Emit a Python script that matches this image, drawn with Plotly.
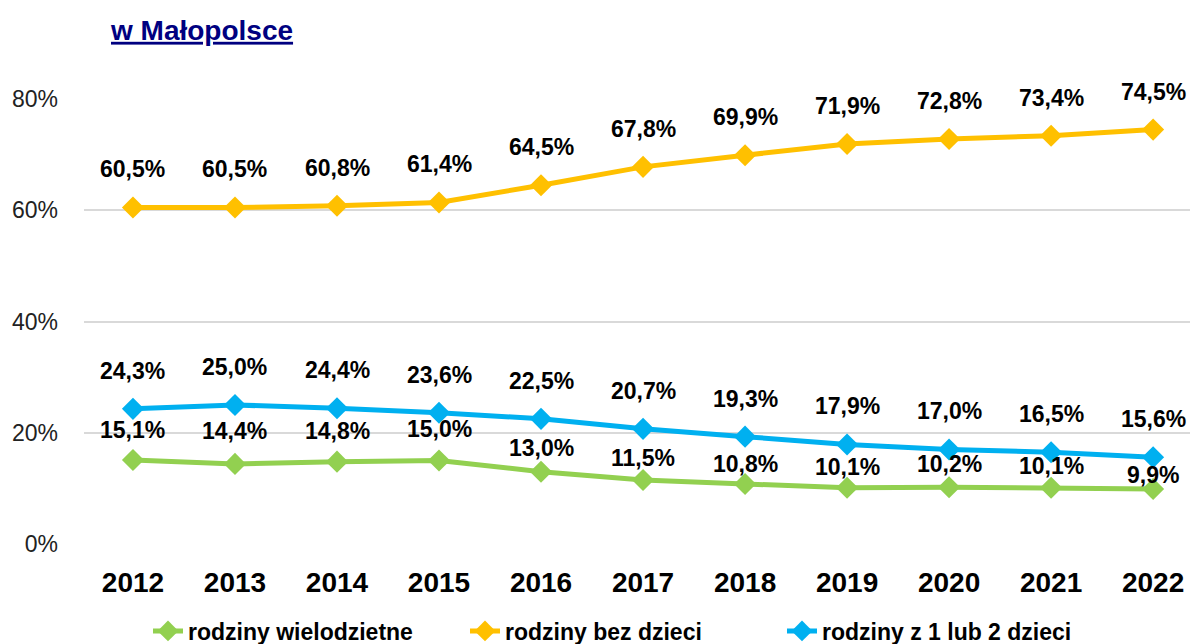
import plotly.graph_objects as go

years = ["2012", "2013", "2014", "2015", "2016", "2017", "2018", "2019", "2020", "2021", "2022"]
wielodzietne = [15.1, 14.4, 14.8, 15.0, 13.0, 11.5, 10.8, 10.1, 10.2, 10.1, 9.9]
bez_dzieci = [60.5, 60.5, 60.8, 61.4, 64.5, 67.8, 69.9, 71.9, 72.8, 73.4, 74.5]
z_1_lub_2 = [24.3, 25.0, 24.4, 23.6, 22.5, 20.7, 19.3, 17.9, 17.0, 16.5, 15.6]

# label offsets (px above each point), styling only
shift_wielodzietne = [30, 33, 31, 32, 24, 22, 20, 21, 23, 22, 14]
shift_bez_dzieci = [38] * 11
shift_z_1_lub_2 = [38] * 11

series = [
    ("rodziny wielodzietne", wielodzietne, "#92D050", shift_wielodzietne),
    ("rodziny bez dzieci", bez_dzieci, "#FFC000", shift_bez_dzieci),
    ("rodziny z 1 lub 2 dzieci", z_1_lub_2, "#00B0F0", shift_z_1_lub_2),
]

BOLD = "Liberation Sans Narrow, Arial Narrow, sans-serif"

fig = go.Figure()
annotations = []
for name, vals, color, shifts in series:
    fig.add_trace(go.Scatter(
        x=years, y=[v / 100 for v in vals], name=name, mode="lines+markers",
        line=dict(color=color, width=5),
        marker=dict(symbol="diamond", size=17, color=color),
        cliponaxis=False,
    ))
    for i, (v, s) in enumerate(zip(vals, shifts)):
        annotations.append(dict(
            x=i, y=v / 100, xref="x", yref="y", yshift=s,
            text="<b>" + f"{v:.1f}".replace(".", ",") + "%</b>",
            showarrow=False, font=dict(family=BOLD, size=23, color="#000000"),
        ))

fig.update_layout(
    width=1190, height=636,
    margin=dict(l=76, r=0, t=91, b=100, autoexpand=False),
    paper_bgcolor="white", plot_bgcolor="white",
    title=dict(
        text="<b>w Małopolsce</b>", x=103 / 1190, xanchor="left",
        y=1 - 22 / 636, yanchor="middle",
        font=dict(family=BOLD, size=28, color="#000080", lineposition="under"),
    ),
    xaxis=dict(
        type="category", range=[-0.48, 10.44], showgrid=False, zeroline=False,
        showline=False, ticks="", ticklabelstandoff=19, automargin=False,
        tickfont=dict(family=BOLD, size=28, color="#000000", weight="bold"),
    ),
    yaxis=dict(
        range=[0, 0.8], tickvals=[0, 0.2, 0.4, 0.6, 0.8], tickformat=".0%",
        gridcolor="#D9D9D9", gridwidth=2, zeroline=False, showline=False,
        ticklabelstandoff=25, automargin=False,
        tickfont=dict(family="Liberation Sans, Arial, sans-serif", size=23, color="#222222"),
    ),
    legend=dict(
        orientation="h", x=(140 - 76) / 1114, xanchor="left", y=-0.1955, yanchor="middle",
        font=dict(family=BOLD, size=23, color="#000000", weight="bold"),
        entrywidth=272, entrywidthmode="pixels", tracegroupgap=0,
    ),
    annotations=annotations,
    showlegend=True,
)

fig.write_html("out.html")
